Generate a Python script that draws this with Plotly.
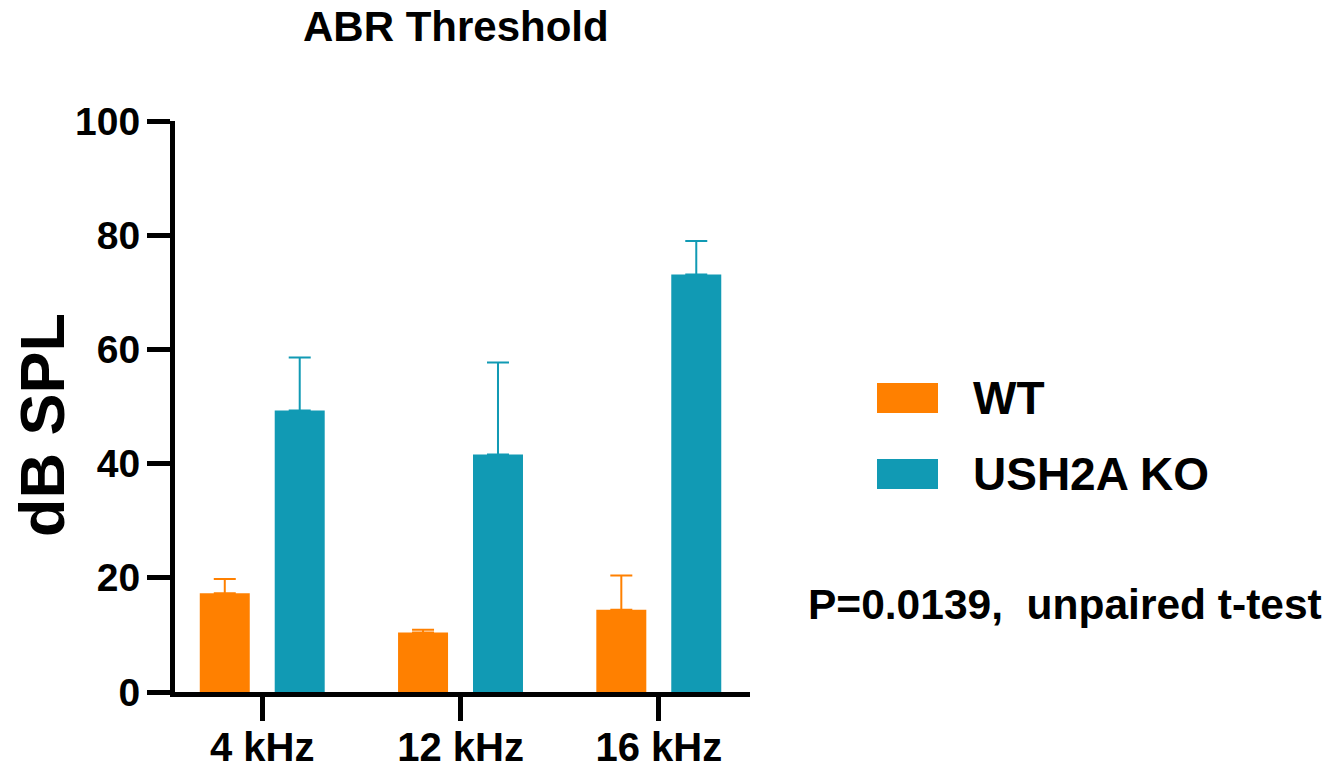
import plotly.graph_objects as go

# ABR thresholds (dB SPL), mean and upper SEM per frequency
frequencies = ["4 kHz", "12 kHz", "16 kHz"]
wt_mean = [17.3, 10.4, 14.4]
wt_err = [2.5, 0.5, 6.0]
ko_mean = [49.3, 41.6, 73.1]
ko_err = [9.3, 16.1, 5.9]
series_names = ["WT", "USH2A KO"]
y_ticks = [0, 20, 40, 60, 80, 100]
stats_text = "P=0.0139,  unpaired t-test"

ORANGE = "#FF8000"
TEAL = "#119AB4"
FONT = "Liberation Sans, Arial, sans-serif"

W, H = 1330, 769
L, R, T, B = 175, 750, 121, 692  # plot area in pixels


def px(x):
    return (x - L) / (R - L)


def py(y):
    return (B - y) / (B - T)


fig = go.Figure()
for name, mean, err, color in [
    (series_names[0], wt_mean, wt_err, ORANGE),
    (series_names[1], ko_mean, ko_err, TEAL),
]:
    fig.add_trace(go.Bar(
        x=frequencies, y=mean, name=name,
        marker=dict(color=color, line=dict(width=0)),
        error_y=dict(type="data", array=err, arrayminus=[0] * len(err),
                     symmetric=False, color=color, thickness=2, width=11),
        showlegend=False,
    ))

axis_font = dict(family=FONT, color="black", weight="bold")
fig.update_layout(
    width=W, height=H,
    margin=dict(l=L, r=W - R, t=T, b=H - B, pad=0, autoexpand=False),
    plot_bgcolor="white", paper_bgcolor="white",
    barmode="group", bargap=0.244, bargroupgap=0.333,
    xaxis=dict(
        type="category", range=[-0.44, 2.46], automargin=False,
        showline=True, linecolor="black", linewidth=5,
        ticks="outside", ticklen=24, tickwidth=5, tickcolor="black",
        tickfont=dict(size=40, **axis_font),
        ticklabelstandoff=-8,
        showgrid=False, zeroline=False,
    ),
    yaxis=dict(
        range=[0, 100], tickvals=y_ticks, automargin=False,
        showline=True, linecolor="black", linewidth=5,
        ticks="outside", ticklen=23, tickwidth=5, tickcolor="black",
        tickfont=dict(size=39, **axis_font),
        ticklabelstandoff=-1,
        showgrid=False, zeroline=False,
    ),
)

annotations = [
    dict(text="ABR Threshold", x=px(456), y=py(26), xanchor="center", yanchor="middle",
         font=dict(size=42, **axis_font)),
    dict(text="dB SPL", x=px(42), y=py(425), textangle=-90, xanchor="center", yanchor="middle",
         font=dict(size=63, **axis_font)),
    dict(text=stats_text, x=px(806), y=py(604), xanchor="left", yanchor="middle",
         font=dict(size=42.5, **axis_font)),
]

# Legend: colour swatches with labels
legend_rows = [(series_names[0], ORANGE, 398), (series_names[1], TEAL, 474)]
shapes = []
for name, color, yc in legend_rows:
    shapes.append(dict(type="rect", xref="paper", yref="paper",
                       x0=px(877), x1=px(938), y0=py(yc + 15), y1=py(yc - 15),
                       fillcolor=color, line=dict(width=0)))
    annotations.append(dict(text=name, x=px(971), y=py(yc), xanchor="left", yanchor="middle",
                            font=dict(size=46, **axis_font)))

for a in annotations:
    a.update(xref="paper", yref="paper", showarrow=False)
fig.update_layout(annotations=annotations, shapes=shapes)

fig.write_html("out.html")
